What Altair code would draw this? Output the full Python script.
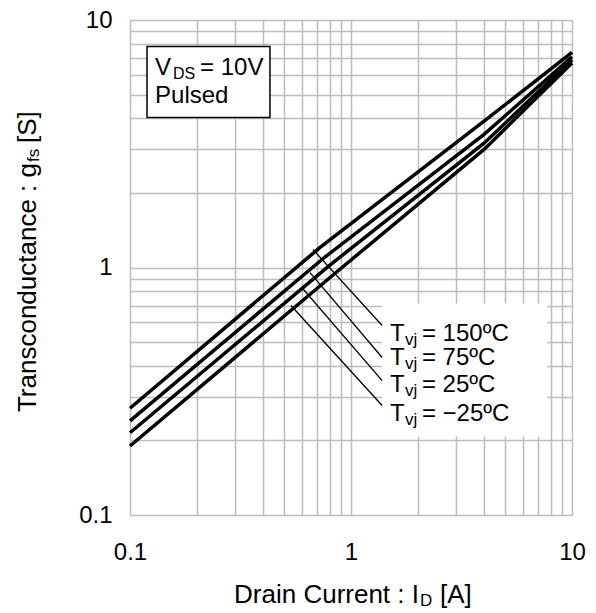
import altair as alt
import pandas as pd

FONT = "Liberation Sans"

# ---- curves: drain current [A] -> gfs [S] ----
series = ["150", "75", "25", "-25"]
id_150 = [0.1, 0.72, 4.0, 10.0]
gfs_150 = [0.27, 1.20, 3.90, 7.4]
id_75 = [0.1, 0.76, 4.0, 10.0]
gfs_75 = [0.24, 1.10, 3.45, 7.1]
id_25 = [0.1, 0.80, 4.0, 10.0]
gfs_25 = [0.215, 1.02, 3.18, 6.9]
id_m25 = [0.1, 0.85, 4.0, 10.0]
gfs_m25 = [0.19, 0.95, 3.0, 6.7]

# ---- legend labels and leader lines (data units) ----
temp_text = ["= 150ºC", "= 75ºC", "= 25ºC", "= −25ºC"]
label_x = [1.50, 1.50, 1.50, 1.50]
label_y = [0.541, 0.429, 0.334, 0.257]
leader_x1 = [1.383, 1.383, 1.383, 1.383]
leader_y1 = [0.583, 0.433, 0.349, 0.277]
leader_x2 = [0.673, 0.653, 0.599, 0.535]
leader_y2 = [1.182, 0.954, 0.830, 0.702]
legend_box_x = [1.383]
legend_box_x2 = [7.71]
legend_box_y = [0.716]
legend_box_y2 = [0.2075]

# ---- condition box ----
cond_box_x = [0.1194]
cond_box_x2 = [0.4298]
cond_box_y = [7.81]
cond_box_y2 = [4.04]
cond_text_x = [0.1298, 0.1298]
cond_text_y = [6.37, 4.95]

# ---- axes ----
grid_vals = [0.1, 0.2, 0.3, 0.4, 0.5, 0.6, 0.7, 0.8, 0.9,
             1, 2, 3, 4, 5, 6, 7, 8, 9, 10]
x_title_parts = ["Drain Current : I", "D", "[A]"]
y_title_parts = ["Transconductance : g", "fs", "[S]"]

frames = []
for s, xs_, ys_ in zip(series, [id_150, id_75, id_25, id_m25],
                       [gfs_150, gfs_75, gfs_25, gfs_m25]):
    frames.append(pd.DataFrame({"x": xs_, "y": ys_, "s": s}))
curves = pd.concat(frames, ignore_index=True)

labels = pd.DataFrame({"x": label_x, "y": label_y, "t": temp_text})
leaders = pd.DataFrame({"x": leader_x1, "y": leader_y1,
                        "x2": leader_x2, "y2": leader_y2})
lbox = pd.DataFrame({"x": legend_box_x, "x2": legend_box_x2,
                     "y": legend_box_y, "y2": legend_box_y2})
cbox = pd.DataFrame({"x": cond_box_x, "x2": cond_box_x2,
                     "y": cond_box_y, "y2": cond_box_y2})
ctext = pd.DataFrame({"x": cond_text_x, "y": cond_text_y})
xt = pd.DataFrame({"t": x_title_parts})
yt = pd.DataFrame({"t": y_title_parts})

xscale = alt.Scale(type="log", domain=[0.1, 10], nice=False)
yscale = alt.Scale(type="log", domain=[0.1, 10], nice=False)
lab_expr = ("datum.value == 0.1 ? '0.1' : datum.value == 1 ? '1' : "
            "datum.value == 10 ? '10' : ''")

common_axis = dict(values=grid_vals, labelExpr=lab_expr, title=None,
                   grid=True, ticks=False, domain=False, labelFontSize=24,
                   labelFont=FONT, labelColor="black", gridColor="#bdbdbd",
                   gridWidth=1.5, labelFlush=False)

lines = alt.Chart(curves).mark_line(color="black", strokeWidth=3.5).encode(
    x=alt.X("x:Q", scale=xscale, axis=alt.Axis(labelPadding=25, **common_axis)),
    y=alt.Y("y:Q", scale=yscale, axis=alt.Axis(labelPadding=18, **common_axis)),
    detail="s:N",
)

legend_bg = alt.Chart(lbox).mark_rect(fill="white").encode(
    x="x:Q", x2="x2:Q", y="y:Q", y2="y2:Q")

leader_rules = alt.Chart(leaders).mark_rule(color="black", strokeWidth=1.3).encode(
    x="x:Q", x2="x2:Q", y="y:Q", y2="y2:Q")

tx = dict(font=FONT, color="black", align="left", baseline="middle")
lab_T = alt.Chart(labels).mark_text(text="T", fontSize=24, **tx).encode(
    x="x:Q", y="y:Q")
lab_sub = alt.Chart(labels).mark_text(text="vj", fontSize=17, dx=15, dy=6, **tx).encode(
    x="x:Q", y="y:Q")
lab_rest = alt.Chart(labels).mark_text(fontSize=24, dx=32, **tx).encode(
    x="x:Q", y="y:Q", text="t:N")

cond_rect = alt.Chart(cbox).mark_rect(fill="white", stroke="black", strokeWidth=1.5).encode(
    x="x:Q", x2="x2:Q", y="y:Q", y2="y2:Q")
cond_V = alt.Chart(ctext.iloc[[0]]).mark_text(text="V", fontSize=24, **tx).encode(
    x="x:Q", y="y:Q")
cond_DS = alt.Chart(ctext.iloc[[0]]).mark_text(text="DS", fontSize=16, dx=18, dy=6, **tx).encode(
    x="x:Q", y="y:Q")
cond_rest = alt.Chart(ctext.iloc[[0]]).mark_text(text="= 10V", fontSize=24, dx=45, **tx).encode(
    x="x:Q", y="y:Q")
cond_P = alt.Chart(ctext.iloc[[1]]).mark_text(text="Pulsed", fontSize=24, **tx).encode(
    x="x:Q", y="y:Q")

# axis titles with subscripts
XJ, XY = 289, 575
xt_main = alt.Chart(xt.iloc[[0]]).mark_text(font=FONT, fontSize=26, color="black",
                                            align="right", baseline="middle").encode(
    x=alt.value(XJ), y=alt.value(XY), text="t:N")
xt_sub = alt.Chart(xt.iloc[[1]]).mark_text(font=FONT, fontSize=17, color="black",
                                           align="left", baseline="middle", dx=1, dy=6).encode(
    x=alt.value(XJ), y=alt.value(XY), text="t:N")
xt_rest = alt.Chart(xt.iloc[[2]]).mark_text(font=FONT, fontSize=26, color="black",
                                            align="left", baseline="middle", dx=21).encode(
    x=alt.value(XJ), y=alt.value(XY), text="t:N")

YX, YJ = -102, 143
yt_main = alt.Chart(yt.iloc[[0]]).mark_text(font=FONT, fontSize=26, color="black", angle=270,
                                            align="right", baseline="middle").encode(
    x=alt.value(YX), y=alt.value(YJ), text="t:N")
yt_sub = alt.Chart(yt.iloc[[1]]).mark_text(font=FONT, fontSize=17, color="black", angle=270,
                                           align="left", baseline="middle", dx=1, dy=6).encode(
    x=alt.value(YX), y=alt.value(YJ), text="t:N")
yt_rest = alt.Chart(yt.iloc[[2]]).mark_text(font=FONT, fontSize=26, color="black", angle=270,
                                            align="left", baseline="middle", dx=20).encode(
    x=alt.value(YX), y=alt.value(YJ), text="t:N")

chart = alt.layer(
    lines, legend_bg, leader_rules, lab_T, lab_sub, lab_rest,
    cond_rect, cond_V, cond_DS, cond_rest, cond_P,
    xt_main, xt_sub, xt_rest, yt_main, yt_sub, yt_rest,
).properties(
    width=442, height=495,
    autosize=alt.AutoSizeParams(type="none"),
    padding={"left": 122, "top": 12, "right": 16, "bottom": 98},
).configure_view(
    stroke="black", strokeWidth=3
).configure(background="white")

chart.save("out.html", embed_options={"renderer": "svg", "actions": False})
